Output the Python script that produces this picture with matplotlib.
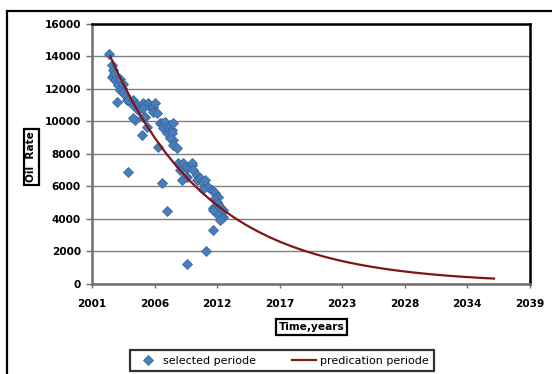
import numpy as np
import matplotlib
matplotlib.use("Agg")
from matplotlib import pyplot as plt
from matplotlib.patches import Rectangle
from matplotlib.lines import Line2D

plt.rcParams['font.family'] = ['DejaVu Sans']

# measured production (decimal year, oil rate)
sel_year = [
    2003.02, 2003.23, 2003.37, 2003.23, 2003.40, 2003.51, 2003.66, 2003.80, 2003.95, 2003.95,
    2004.10, 2004.20, 2004.24, 2003.66, 2004.39, 2004.54, 2004.68, 2005.12, 2005.12, 2005.41,
    2005.55, 2005.99, 2005.99, 2006.43, 2006.58, 2006.87, 2007.02, 2006.87, 2007.17, 2006.14,
    2005.99, 2005.27, 2005.12, 2006.29, 2005.85, 2007.45, 2007.60, 2007.89, 2007.74, 2008.04,
    2008.18, 2008.33, 2008.48, 2008.48, 2008.62, 2008.62, 2008.33, 2008.62, 2008.92, 2007.31,
    2004.68, 2009.06, 2009.21, 2009.50, 2009.79, 2009.79, 2010.23, 2010.23, 2010.37, 2009.79,
    2009.64, 2009.36, 2010.67, 2010.67, 2010.96, 2011.25, 2011.25, 2011.40, 2007.60, 2011.68,
    2011.98, 2011.25, 2012.12, 2012.27, 2012.42, 2012.56, 2012.27, 2012.42, 2012.56, 2012.12,
    2012.12, 2012.71, 2012.86, 2013.00, 2012.56, 2013.00, 2012.86, 2012.71, 2012.12, 2008.04,
    2009.79, 2011.46,
]
sel_rate = [
    14150, 13470, 13160, 12750, 12900, 12550, 12440, 12240, 11930, 12600,
    12030, 12300, 11830, 11210, 11620, 11310, 11310, 11310, 11000, 11000,
    10700, 11110, 10800, 11110, 10900, 10900, 11110, 10590, 10490, 10280,
    10280, 10080, 10180, 9670, 9150, 9880, 9880, 9980, 9570, 9260,
    9670, 9770, 9460, 9260, 9880, 8850, 8950, 8540, 8340, 8400,
    6890, 7410, 7000, 7410, 7100, 7200, 7310, 7410, 7000, 6580,
    6580, 6380, 6690, 6380, 6490, 6280, 6180, 6380, 6180, 5970,
    5760, 5850, 5700, 5560, 5330, 5350, 5250, 5040, 4920, 4640,
    4510, 4730, 4410, 4530, 4220, 4100, 4020, 3900, 3300, 4470,
    1220, 2000,
]

# decline curve, read yearly
pred_year = [2003.1, 2004, 2005, 2006, 2007, 2008, 2009, 2010, 2011, 2012,
             2013, 2014, 2015, 2016, 2017, 2018, 2019, 2020, 2021, 2022,
             2023, 2024, 2025, 2026, 2027, 2028, 2029, 2030, 2031, 2032,
             2033, 2034, 2035, 2036, 2036.7]
pred_rate = [14000, 12640, 11270, 10060, 8975, 8010, 7145, 6375, 5690, 5075,
             4530, 4040, 3605, 3217, 2870, 2561, 2285, 2039, 1819, 1623,
             1448, 1292, 1153, 1029, 918, 819, 731, 652, 582, 519,
             463, 413, 369, 329, 304]

xtick_labels = ["2001", "2006", "2012", "2017", "2023", "2028", "2034", "2039"]
x_min, x_max = 2001.5, 2039.83

W, H = 552, 374
fig = plt.figure(figsize=(W/100, H/100), dpi=100)

# outer chart frame
fig.patches.append(Rectangle((7/W, -0.1), 1.2, 1 - 11/H + 0.1, transform=fig.transFigure,
                             fill=False, edgecolor='black', linewidth=1.6, clip_on=False))

ax = fig.add_axes([92/W, 1 - 283.5/H, (529.7 - 92)/W, (283.5 - 24)/H])
ax.set_xlim(x_min, x_max)
ax.set_ylim(0, 16000)
ax.set_yticks(np.arange(0, 16001, 2000))
ax.set_xticks(np.linspace(x_min, x_max, len(xtick_labels)))
ax.set_xticklabels(xtick_labels)
ax.yaxis.grid(True, color='#7f7f7f', linewidth=1.0)
ax.set_axisbelow(True)

for side in ['top', 'right']:
    ax.spines[side].set_color('black')
    ax.spines[side].set_linewidth(1.8)
for side in ['left', 'bottom']:
    ax.spines[side].set_color('#6f6f6f')
    ax.spines[side].set_linewidth(1.8)

ax.tick_params(axis='y', direction='out', length=4, width=1, color='#6f6f6f', pad=4)
ax.tick_params(axis='x', direction='out', length=3, width=1, color='#6f6f6f', pad=8)
for lab in ax.get_xticklabels() + ax.get_yticklabels():
    lab.set_fontweight('bold')
    lab.set_fontsize(7.6)

mkw = dict(marker='D', markersize=5.2, markerfacecolor='#4a7ebb',
           markeredgecolor='#3a68a0', markeredgewidth=0.6)
ax.plot(sel_year, sel_rate, linestyle='none', zorder=3, **mkw)
ax.plot(pred_year, pred_rate, color='#7f1616', linewidth=1.6, zorder=4)

box = dict(boxstyle='square,pad=0.25', facecolor='white', edgecolor='black', linewidth=1.6)
fig.text(31.5/W, 1 - 157/H, "Oil  Rate", rotation=90, ha='center', va='center',
         fontsize=7.6, fontweight='bold', bbox=box)
fig.text(311.5/W, 1 - 327/H, "Time,years", ha='center', va='center',
         fontsize=7.6, fontweight='bold', bbox=box)

handles = [
    Line2D([], [], linestyle='none', **mkw),
    Line2D([], [], color='#7f1616', linewidth=1.6),
]
leg = fig.legend(handles, ["selected periode", "predication periode"], ncol=2,
                 loc='center', bbox_to_anchor=(282/W, 1 - 360.5/H), frameon=True,
                 fancybox=False, fontsize=8, handlelength=2.2, handletextpad=0.3,
                 columnspacing=3.2, borderpad=0.5, borderaxespad=0)
leg.get_frame().set_edgecolor('black')
leg.get_frame().set_linewidth(1.6)

fig.savefig("out.png", dpi=100)
